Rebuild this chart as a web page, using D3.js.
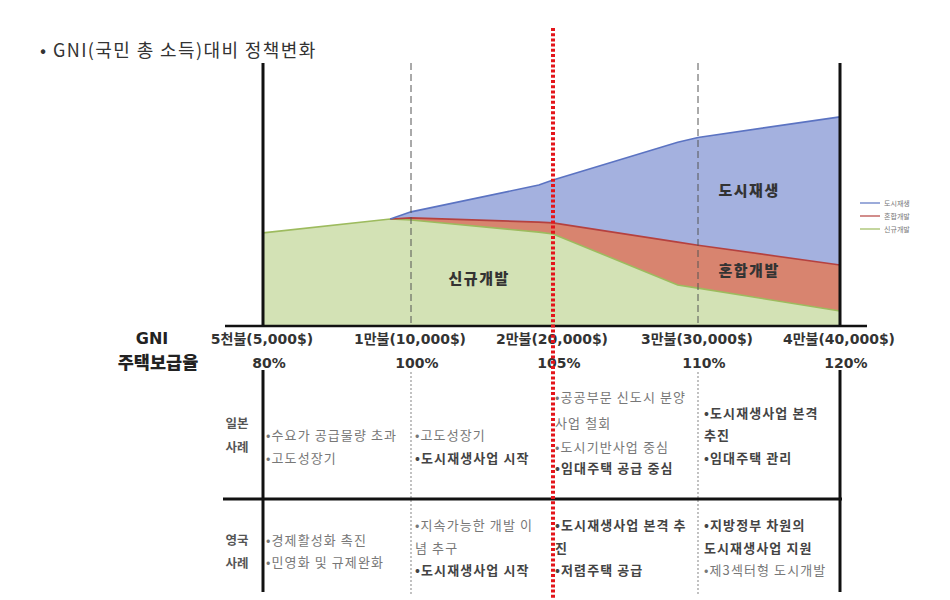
<!DOCTYPE html>
<html><head><meta charset="utf-8">
<script src="https://cdn.jsdelivr.net/npm/d3@7/dist/d3.min.js"></script>
<style>
body{margin:0;background:#fff;}
text{font-family:"Noto Sans CJK KR","Noto Sans",sans-serif;}
.wide{font-family:"DejaVu Sans","Noto Sans CJK KR",sans-serif;}
</style></head>
<body><svg id="c" width="950" height="600"></svg>
<script>
// ---- data ----
const title = "• GNI(국민 총 소득)대비 정책변화";
const gni = [5000, 9300, 10000, 19000, 20000, 28600, 30000, 40000];
const newDev = [35.4, 40.7, 40.3, 35.7, 35.0, 15.6, 14.4, 5.7];   // 신규개발
const mixedDev = [0, 0, 0.8, 3.8, 4.2, 16.3, 16.3, 17.5];        // 혼합개발
const regen = [0, 0, 2.3, 14.1, 16.3, 38.0, 41.0, 56.3];         // 도시재생
const seriesNames = ["도시재생", "혼합개발", "신규개발"];
const areaLabelGni = [33600, 33600, 14800];
const areaLabelVal = [49.4, 19, 16];
const gniTicks = [5000, 10000, 20000, 30000, 40000];
const gniLabels = ["5천불(5,000$)", "1만불(10,000$)", "2만불(20,000$)", "3만불(30,000$)", "4만불(40,000$)"];
const supplyLabels = ["80%", "100%", "105%", "110%", "120%"];
const rowHeads = [["일본", "사례"], ["영국", "사례"]];
const japanCells = [
  [["•수요가 공급물량 초과", 0], ["•고도성장기", 0]],
  [["•고도성장기", 0], ["•도시재생사업 시작", 1]],
  [["•공공부문 신도시 분양", 0], ["사업 철회", 0], ["•도시기반사업 중심", 0], ["•임대주택 공급 중심", 1]],
  [["•도시재생사업 본격", 1], ["추진", 1], ["•임대주택 관리", 1]]
];
const ukCells = [
  [["•경제활성화 촉진", 0], ["•민영화 및 규제완화", 0]],
  [["•지속가능한 개발 이", 0], ["념 추구", 0], ["•도시재생사업 시작", 1]],
  [["•도시재생사업 본격 추", 1], ["진", 1], ["•저렴주택 공급", 1]],
  [["•지방정부 차원의", 1], ["도시재생사업 지원", 1], ["•제3섹터형 도시개발", 0]]
];

const svg = d3.select("#c");
const x = d3.scaleLinear().domain(gniTicks).range([263, 411, 553, 698, 840]);
const y = d3.scaleLinear().domain([0, 100]).range([326, 63]);

const rows = gni.map((g, i) => ({gni: g, 신규개발: newDev[i], 혼합개발: mixedDev[i], 도시재생: regen[i]}));
const stack = d3.stack().keys(["신규개발", "혼합개발", "도시재생"]);
const stacked = stack(rows);
const fills = {신규개발: "#d3e2b5", 혼합개발: "#d8846f", 도시재생: "#a4b1df"};
const strokes = {신규개발: "#9dbb5e", 혼합개발: "#b5413f", 도시재생: "#5b73c2"};

const area = d3.area().x(d => x(d.data.gni)).y0(d => y(d[0])).y1(d => y(d[1]));
const topLine = d3.line().x(d => x(d.data.gni)).y(d => y(d[1]));

svg.append("text").attr("x", 40).attr("y", 57).attr("font-size", 18).attr("letter-spacing", 1.4).attr("fill", "#333").text(title);

svg.selectAll("path.area").data(stacked).join("path")
  .attr("d", area).attr("fill", s => fills[s.key]);
svg.selectAll("path.top").data(stacked).join("path")
  .attr("d", s => topLine(s.filter((d, i) => s.key === "신규개발" || d[1] > d[0] || (s[i + 1] && s[i + 1][1] > s[i + 1][0]))))
  .attr("fill", "none").attr("stroke", s => strokes[s.key]).attr("stroke-width", 1.6);

// dashed guide lines
[10000, 30000].forEach(v => {
  svg.append("line").attr("x1", x(v)).attr("x2", x(v)).attr("y1", 63).attr("y2", 326)
    .attr("stroke", "#555").attr("stroke-width", 1).attr("stroke-dasharray", "7,4");
  svg.append("line").attr("x1", x(v)).attr("x2", x(v)).attr("y1", 372).attr("y2", 596)
    .attr("stroke", "#999").attr("stroke-width", 1.2).attr("stroke-dasharray", "2,2");
});

// axes
svg.append("line").attr("x1", 225).attr("x2", 867).attr("y1", 326).attr("y2", 326).attr("stroke", "#111").attr("stroke-width", 2.5);
[5000, 40000].forEach(v => {
  svg.append("line").attr("x1", x(v)).attr("x2", x(v)).attr("y1", 63).attr("y2", 326).attr("stroke", "#111").attr("stroke-width", 3);
  svg.append("line").attr("x1", x(v)).attr("x2", x(v)).attr("y1", 370).attr("y2", 592).attr("stroke", "#111").attr("stroke-width", 3);
});
svg.append("line").attr("x1", 223).attr("x2", 842).attr("y1", 499).attr("y2", 499).attr("stroke", "#111").attr("stroke-width", 3);

// area labels
seriesNames.forEach((n, i) => svg.append("text").attr("x", x(areaLabelGni[i])).attr("y", y(areaLabelVal[i]))
  .attr("text-anchor", "middle").attr("font-size", 15).attr("letter-spacing", 1.5).attr("font-weight", 900).attr("fill", "#333").text(n));

// legend
seriesNames.forEach((n, i) => {
  const ly = 203 + i * 13;
  svg.append("line").attr("x1", 860).attr("x2", 880).attr("y1", ly).attr("y2", ly).attr("stroke", strokes[n]).attr("stroke-width", 1.2);
  svg.append("text").attr("x", 884).attr("y", ly + 2.5).attr("font-size", 7).attr("fill", "#777").text(n);
});

// GNI / 보급율 rows
svg.append("text").attr("class", "wide").attr("x", 152).attr("y", 344).attr("text-anchor", "middle").attr("font-size", 16).attr("font-weight", 700).attr("fill", "#222").text("GNI");
svg.append("text").attr("x", 158).attr("y", 369).attr("text-anchor", "middle").attr("font-size", 17.5).attr("font-weight", 900).attr("fill", "#222").text("주택보급율");
gniTicks.forEach((v, i) => {
  svg.append("text").attr("class", "wide").attr("x", x(v) - 1).attr("y", 344).attr("text-anchor", "middle").attr("font-size", 14).attr("font-weight", 700).attr("fill", "#333").text(gniLabels[i]);
  svg.append("text").attr("class", "wide").attr("x", x(v) + 6).attr("y", 368).attr("text-anchor", "middle").attr("font-size", 14).attr("font-weight", 700).attr("fill", "#333").text(supplyLabels[i]);
});

// table
const colX = [266, 415, 555, 704];
function drawRow(cells, lineYs) {
  cells.forEach((cell, ci) => {
    const ys = lineYs[cell.length];
    cell.forEach((ln, li) => {
      svg.append("text").attr("x", colX[ci]).attr("y", ys[li]).attr("font-size", 13).attr("letter-spacing", 1.1)
        .attr("font-weight", ln[1] ? 700 : 400).attr("fill", ln[1] ? "#444" : "#777").text(ln[0]);
    });
  });
}
rowHeads[0].forEach((t, i) => svg.append("text").attr("x", 237).attr("y", 428 + i * 24).attr("text-anchor", "middle").attr("font-size", 12.5).attr("font-weight", 700).attr("fill", "#555").text(t));
rowHeads[1].forEach((t, i) => svg.append("text").attr("x", 237).attr("y", 545 + i * 23).attr("text-anchor", "middle").attr("font-size", 12.5).attr("font-weight", 700).attr("fill", "#555").text(t));
drawRow(japanCells, {2: [440, 463], 3: [418, 440, 463], 4: [402, 428, 452, 473]});
drawRow(ukCells, {2: [545, 567], 3: [530, 553, 575]});

// red dotted line at 20,000
svg.append("line").attr("x1", x(20000)).attr("x2", x(20000)).attr("y1", 28).attr("y2", 600)
  .attr("stroke", "#e3151b").attr("stroke-width", 4).attr("stroke-dasharray", "3,2.2");
</script></body></html>
